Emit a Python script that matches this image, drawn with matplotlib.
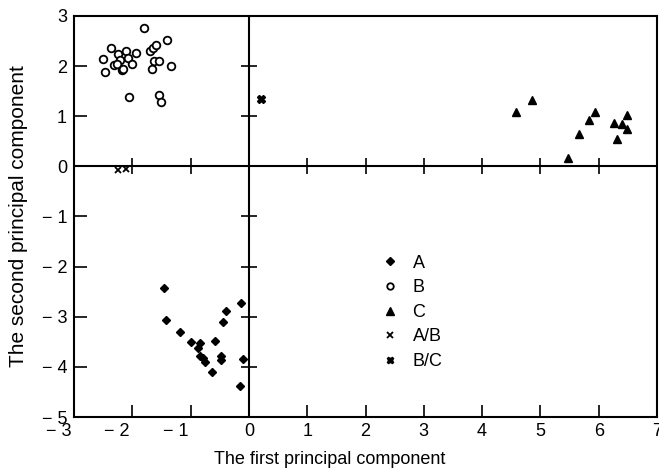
import matplotlib
matplotlib.use("Agg")
import matplotlib.pyplot as plt
import matplotlib.transforms as mtransforms
import numpy as np

plt.rcParams['font.family'] = ['Liberation Sans', 'DejaVu Sans']

# Group A (diamonds)
a_x = [-1.45, -1.42, -1.18, -0.99, -0.84, -0.88, -0.58, -0.84, -0.78, -0.76,
       -0.64, -0.47, -0.47, -0.44, -0.39, -0.14, -0.10, -0.15]
a_y = [-2.42, -3.07, -3.31, -3.50, -3.52, -3.62, -3.49, -3.79, -3.82, -3.91,
       -4.10, -3.79, -3.86, -3.11, -2.89, -2.73, -3.84, -4.39]

# Group B (open circles)
b_x = [-1.80, -1.41, -2.36, -2.50, -2.46, -2.24, -2.10, -1.94, -2.21, -2.08,
       -2.31, -2.26, -2.17, -2.16, -2.01, -2.05, -1.70, -1.65, -1.60, -1.62,
       -1.54, -1.66, -1.33, -1.55, -1.51]
b_y = [2.77, 2.52, 2.36, 2.14, 1.88, 2.25, 2.31, 2.27, 2.12, 2.17,
       2.02, 2.04, 1.92, 1.94, 2.04, 1.38, 2.31, 2.37, 2.42, 2.10,
       2.11, 1.94, 2.00, 1.43, 1.28]

# Group C (triangles)
c_x = [4.85, 4.59, 5.94, 5.83, 5.66, 5.47, 6.48, 6.26, 6.40, 6.48, 6.31]
c_y = [1.33, 1.08, 1.09, 0.92, 0.64, 0.17, 1.02, 0.86, 0.84, 0.74, 0.55]

# A/B and B/C
ab_x = [-2.24, -2.10]
ab_y = [-0.08, -0.05]
bc_x = [0.21]
bc_y = [1.34]

x_ticks = [-3, -2, -1, 0, 1, 2, 3, 4, 5, 6, 7]
x_tick_labels = ['\u2212 3', '\u2212 2', '\u2212 1', '0', '1', '2', '3', '4', '5', '6', '7']
y_ticks = [-5, -4, -3, -2, -1, 0, 1, 2, 3]
y_tick_labels = ['\u2212 5', '\u2212 4', '\u2212 3', '\u2212 2', '\u2212 1', '0', '1', '2', '3']

FS = 13

fig = plt.figure(figsize=(6.59, 4.69), dpi=100)
ax = fig.add_axes([74/659, 1 - 417/469, (657-74)/659, (417-16)/469])

ax.set_xlim(-3, 7)
ax.set_ylim(-5, 3)

ax.axhline(0, color='black', lw=1.5, zorder=1)
ax.axvline(0, color='black', lw=1.5, zorder=1)

# crossing ticks on the central lines
xt_inner = [t for t in x_ticks if t not in (x_ticks[0], x_ticks[-1], 0)]
yt_inner = [t for t in y_ticks if t not in (y_ticks[0], y_ticks[-1], 0)]
ax.plot(xt_inner, np.zeros(len(xt_inner)), ls='none', marker='|', ms=11, mew=1.2, color='black', zorder=1)
ax.plot(np.zeros(len(yt_inner)), yt_inner, ls='none', marker='_', ms=11, mew=1.2, color='black', zorder=1)

ax.plot(a_x, a_y, ls='none', marker='D', ms=4.5, color='black', label='A', zorder=3)
ax.plot(b_x, b_y, ls='none', marker='o', ms=5.5, mfc='white', mec='black', mew=1.3, label='B', zorder=3)
ax.plot(c_x, c_y, ls='none', marker='^', ms=6, color='black', label='C', zorder=3)
ax.plot(ab_x, ab_y, ls='none', marker='x', ms=5, mew=1.3, color='black', label='A/B', zorder=3)
ax.plot(bc_x, bc_y, ls='none', marker='X', ms=5.5, color='black', label='B/C', zorder=3)

ax.set_xticks(x_ticks)
ax.set_xticklabels(x_tick_labels)
ax.set_yticks(y_ticks)
ax.set_yticklabels(y_tick_labels)
ax.tick_params(axis='both', direction='in', length=9, width=1.2, labelsize=FS, color='black')
ax.tick_params(axis='x', pad=4)
ax.tick_params(axis='y', pad=5)

# shift negative x labels so the digit sits near the tick
for lab in ax.get_xticklabels():
    if lab.get_text().startswith('\u2212'):
        lab.set_transform(lab.get_transform() + mtransforms.ScaledTranslation(-11/72, 0, fig.dpi_scale_trans))

for s in ax.spines.values():
    s.set_linewidth(1.5)

ax.set_xlabel('The first principal component', fontsize=FS)
ax.xaxis.set_label_coords((329.5 - 74) / 583, -(459 - 417) / 401)
ax.xaxis.label.set_va('center')
ax.set_ylabel('The second principal component', fontsize=15)
ax.yaxis.set_label_coords(-(74 - 19) / 583, 0.5)
ax.yaxis.label.set_va('center')

leg = ax.legend(loc='center left', bbox_to_anchor=(0.528, 0.261), frameon=False,
                handlelength=0.9, handletextpad=0.8, borderpad=0, borderaxespad=0,
                labelspacing=0.42, fontsize=FS, markerscale=0.85)

fig.savefig('out.png', dpi=100)
